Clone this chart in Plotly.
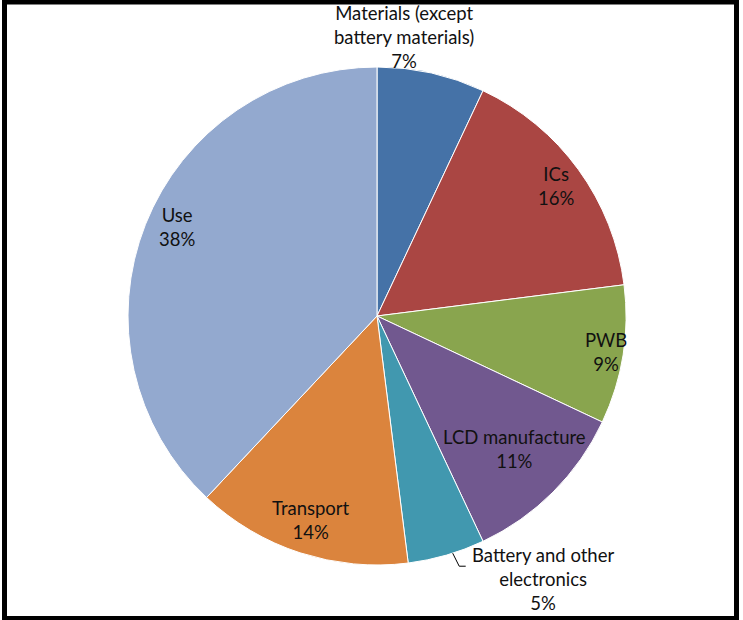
import math
import plotly.graph_objects as go

# ---- data ----
categories = ["Materials (except<br>battery materials)", "ICs", "PWB", "LCD manufacture",
              "Battery and other<br>electronics", "Transport", "Use"]
shares = [7, 16, 9, 11, 5, 14, 38]
colors = ["#4572A7", "#AA4643", "#89A54E", "#71588F", "#4198AF", "#DB843D", "#93A9CF"]

# ---- label placement style (radial factor, angular shift in degrees) ----
label_r = [1.125, 0.89, 0.93, 0.77, 1.25, 0.86, 0.88]
label_shift = [-7, 0, 0, -1, -16, 0, 2.5]

W, H = 743, 620
CX, CY, R = 377, 316, 249
FONT = dict(family="Lato", size=18.5, color="#111111")

def px(x):
    return x / W

def py(y):
    return 1 - y / H

fig = go.Figure(go.Pie(
    labels=[c.replace("<br>", " ") for c in categories],
    values=shares,
    sort=False,
    direction="clockwise",
    rotation=0,
    marker=dict(colors=colors, line=dict(color="white", width=1)),
    textinfo="none",
    hoverinfo="label+percent",
    showlegend=False,
    domain=dict(x=[px(CX - R), px(CX + R)], y=[py(CY + R), py(CY - R)]),
))

total = sum(shares)
cum = 0
annotations = []
for i, (lab, v) in enumerate(zip(categories, shares)):
    mid = (cum + v / 2) / total * 360
    cum += v
    a = math.radians(mid + label_shift[i])
    lx = CX + label_r[i] * R * math.sin(a)
    ly = CY - label_r[i] * R * math.cos(a)
    pct = round(v / total * 100)
    annotations.append(dict(
        x=px(lx), y=py(ly), xref="paper", yref="paper",
        text=f"{lab}<br>{pct}%", showarrow=False,
        xanchor="center", yanchor="middle", align="center", font=FONT,
    ))

shapes = [dict(type="rect", xref="paper", yref="paper",
               x0=px(4.5), x1=px(736.5), y0=py(618.5), y1=py(2),
               line=dict(color="black", width=5))]

# leader line for the battery slice, from its edge midpoint
cum_b = sum(shares[:4])
mid_b = math.radians((cum_b + shares[4] / 2) / total * 360 - 1.5)
ex = CX + R * math.sin(mid_b)
ey = CY - R * math.cos(mid_b)
path = (f"M {px(ex)} {py(ey)} L {px(ex + 6.5)} {py(ey + 13)} "
        f"L {px(ex + 13)} {py(ey + 13)}")
shapes.append(dict(type="path", xref="paper", yref="paper", path=path,
                   line=dict(color="black", width=1)))

fig.update_layout(
    width=W, height=H,
    margin=dict(l=0, r=0, t=0, b=0),
    paper_bgcolor="white", plot_bgcolor="white",
    annotations=annotations, shapes=shapes,
)
fig.write_html("out.html", config={"displayModeBar": False},
               post_script="document.body.style.margin='0';document.body.style.overflow='hidden';")
